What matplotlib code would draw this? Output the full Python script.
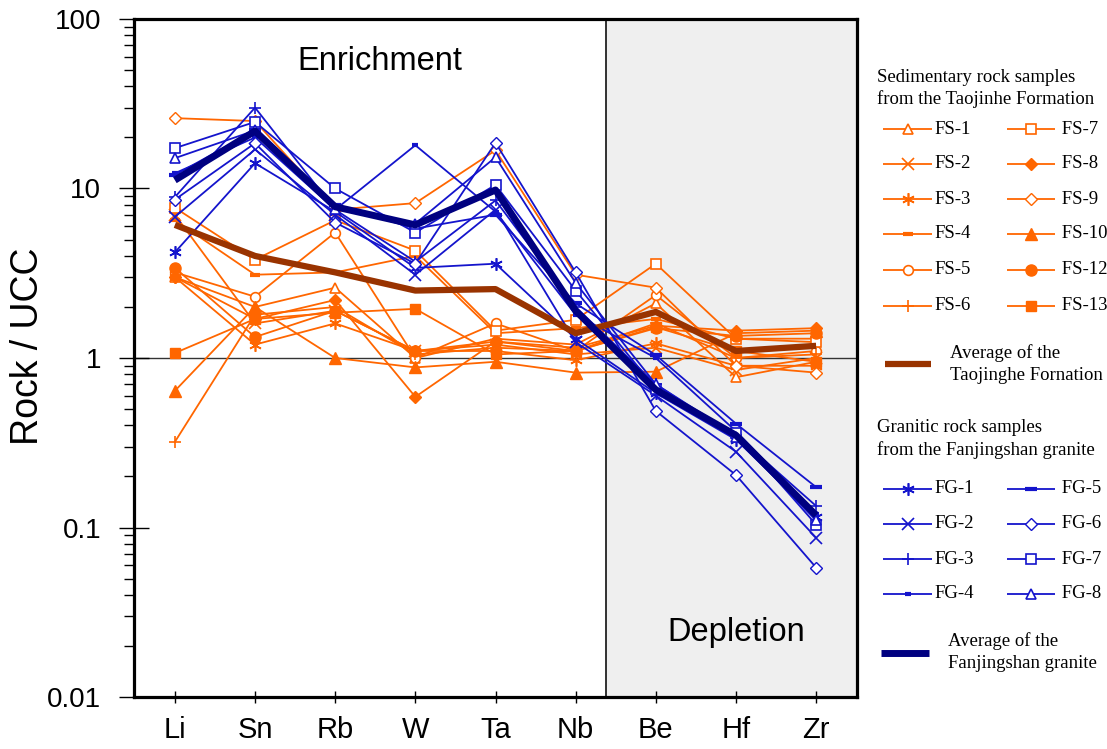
import matplotlib
matplotlib.use('Agg')
import matplotlib.pyplot as plt
from matplotlib.lines import Line2D
from matplotlib.ticker import LogLocator, NullFormatter, FixedLocator

# ---------------- data ----------------
elements = ['Li', 'Sn', 'Rb', 'W', 'Ta', 'Nb', 'Be', 'Hf', 'Zr']
y_ticks = [0.01, 0.1, 1, 10, 100]
y_tick_labels = ['0.01', '0.1', '1', '10', '100']

fs_names = ['FS-1', 'FS-2', 'FS-3', 'FS-4', 'FS-5', 'FS-6',
            'FS-7', 'FS-8', 'FS-9', 'FS-10', 'FS-12', 'FS-13']
fs_1 = [3.0, 2.0, 2.6, 1.0, 1.3, 1.2, 2.1, 0.77, 0.95]
fs_2 = [7.0, 1.6, 1.9, 1.1, 1.2, 1.05, 1.15, 0.85, 1.0]
fs_3 = [3.0, 1.2, 1.6, 1.1, 1.1, 0.97, 1.22, 0.9, 0.9]
fs_4 = [6.5, 3.1, 3.2, 4.0, 1.4, 1.5, 1.7, 1.3, 1.3]
fs_5 = [3.2, 2.3, 5.5, 1.0, 1.6, 1.1, 2.35, 1.0, 1.1]
fs_6 = [0.32, 1.8, 2.0, 1.05, 1.15, 1.1, 1.6, 1.0, 1.05]
fs_7 = [7.7, 3.8, 6.5, 4.3, 1.45, 1.68, 3.6, 1.3, 1.24]
fs_8 = [3.0, 1.7, 2.2, 0.59, 1.25, 1.15, 1.55, 1.45, 1.5]
fs_9 = [26.0, 25.0, 7.5, 8.2, 16.8, 3.1, 2.6, 0.9, 0.82]
fs_10 = [0.64, 2.0, 1.0, 0.88, 0.95, 0.82, 0.83, 1.4, 1.45]
fs_12 = [3.4, 1.33, 1.9, 1.1, 1.25, 1.1, 1.5, 1.35, 1.4]
fs_13 = [1.07, 1.7, 1.85, 1.95, 1.05, 1.1, 1.52, 1.1, 0.95]
fs_avg = [6.1, 4.0, 3.2, 2.5, 2.55, 1.4, 1.87, 1.1, 1.18]

fg_names = ['FG-1', 'FG-2', 'FG-3', 'FG-4', 'FG-5', 'FG-6', 'FG-7', 'FG-8']
fg_1 = [4.2, 14.1, 7.3, 3.4, 3.6, 1.3, 0.62, 0.33, 0.115]
fg_2 = [6.8, 17.0, 7.0, 3.1, 7.5, 1.24, 0.6, 0.28, 0.087]
fg_3 = [8.9, 30.0, 7.5, 3.7, 8.5, 2.0, 0.7, 0.35, 0.134]
fg_4 = [12.3, 20.0, 7.5, 18.0, 7.3, 1.8, 1.0, 0.37, 0.12]
fg_5 = [12.0, 22.0, 8.0, 5.8, 7.0, 2.1, 1.04, 0.41, 0.173]
fg_6 = [8.6, 18.5, 6.3, 3.6, 18.6, 3.2, 0.487, 0.204, 0.058]
fg_7 = [17.3, 24.7, 10.0, 5.5, 10.5, 2.5, 0.66, 0.36, 0.104]
fg_8 = [15.1, 22.0, 7.6, 6.2, 15.3, 2.77, 0.7, 0.34, 0.11]
fg_avg = [11.2, 21.8, 7.8, 6.1, 9.8, 1.9, 0.65, 0.35, 0.118]

fs_series = [fs_1, fs_2, fs_3, fs_4, fs_5, fs_6, fs_7, fs_8, fs_9, fs_10, fs_12, fs_13]
fg_series = [fg_1, fg_2, fg_3, fg_4, fg_5, fg_6, fg_7, fg_8]

# ---------------- styles ----------------
ORANGE = '#FF6600'
BLUE = '#1414CC'
NAVY = '#000080'
BROWN = '#993300'
ASTER = (6, 2, 0)

# (marker, filled, size, edge width)
fs_styles = [('^', False, 7, 1.2), ('x', False, 8, 1.2), (ASTER, False, 9, 1.2),
             ('_', False, 7, 3.0), ('o', False, 7, 1.2), ('+', False, 9, 1.2),
             ('s', False, 7, 1.2), ('D', True, 6, 1.0), ('D', False, 6, 1.0),
             ('^', True, 8, 1.0), ('o', True, 8, 1.0), ('s', True, 7, 1.0)]
fg_styles = [(ASTER, False, 9, 1.2), ('x', False, 8, 1.2), ('+', False, 9, 1.2),
             ('_', False, 4, 3.0), ('_', False, 8, 3.0), ('D', False, 6, 1.0),
             ('s', False, 7, 1.2), ('^', False, 7, 1.2)]

SANS = ['Liberation Sans', 'DejaVu Sans']
NARROW = ['Liberation Sans Narrow', 'Liberation Sans', 'DejaVu Sans']
SERIF = ['Liberation Serif', 'DejaVu Serif']

W, H = 1107, 749
fig = plt.figure(figsize=(W / 100, H / 100), dpi=100)
ax = fig.add_axes([134 / W, 1 - 697 / H, (857 - 134) / W, (697 - 19) / H])

x = list(range(len(elements)))


def mk_kwargs(style, color):
    m, filled, ms, mew = style
    return dict(marker=m, markersize=ms, markeredgewidth=mew, markeredgecolor=color,
                markerfacecolor=(color if filled else 'white'))


# shaded depletion area
ax.axvspan(5.38, 8.6, facecolor='#EFEFEF', edgecolor='none', zorder=0)
ax.axvline(5.38, color='#222222', lw=1.3, zorder=1)
ax.axhline(1, color='#333333', lw=1.0, zorder=1)

for vals, st in zip(fs_series, fs_styles):
    ax.plot(x, vals, color=ORANGE, lw=1.3, zorder=3, **mk_kwargs(st, ORANGE))
for vals, st in zip(fg_series, fg_styles):
    ax.plot(x, vals, color=BLUE, lw=1.3, zorder=4, **mk_kwargs(st, BLUE))
ax.plot(x, fs_avg, color=BROWN, lw=4.5, zorder=5, solid_capstyle='butt')
ax.plot(x, fg_avg, color=NAVY, lw=5.0, zorder=6, solid_capstyle='butt')

ax.set_yscale('log')
ax.set_ylim(0.01, 100)
ax.set_xlim(-0.51, 8.51)
ax.yaxis.set_major_locator(FixedLocator(y_ticks))
ax.set_yticklabels(y_tick_labels, fontsize=20, fontfamily=SANS)
ax.yaxis.set_minor_locator(LogLocator(base=10, subs=range(2, 10)))
ax.yaxis.set_minor_formatter(NullFormatter())
ax.tick_params(axis='y', which='major', direction='inout', length=21, width=1.0, pad=13)
ax.tick_params(axis='y', which='minor', direction='out', length=7, width=1.0)
ax.set_xticks(x)
ax.set_xticklabels(elements, fontsize=21, fontfamily=NARROW)
ax.tick_params(axis='x', which='major', direction='inout', length=9, width=1.0, pad=9)

for s in ax.spines.values():
    s.set_linewidth(2.3)
    s.set_zorder(10)

fig.text(380 / W, 1 - 62 / H, 'Enrichment', fontsize=23.5, fontfamily=SANS, ha='center', va='center')
fig.text(736 / W, 1 - 632 / H, 'Depletion', fontsize=23.5, fontfamily=SANS, ha='center', va='center')
fig.text(28 / W, 1 - 346 / H, 'Rock / UCC', fontsize=27, fontfamily=SANS, rotation=90,
         ha='center', va='center')


# ---------------- legend (drawn in figure pixels) ----------------
def P(px, py):
    return (px / W, 1 - py / H)


LFS = 13.5


def leg_entry(x0, x1, y, color, style, label, lw=1.3):
    a, b = P(x0, y), P(x1, y)
    fig.add_artist(Line2D([a[0], b[0]], [a[1], b[1]], color=color, lw=lw,
                          transform=fig.transFigure, solid_capstyle='butt'))
    if style is not None:
        c = P((x0 + x1) / 2, y)
        fig.add_artist(Line2D([c[0]], [c[1]], linestyle='none', transform=fig.transFigure,
                              **mk_kwargs(style, color)))
    if label:
        t = P(x1 + 2, y)
        fig.text(t[0], t[1], label, fontsize=LFS, fontfamily=SERIF, ha='left', va='center')


fig.text(*P(877, 77), 'Sedimentary rock samples', fontsize=LFS, fontfamily=SERIF, va='center')
fig.text(*P(877, 99), 'from the Taojinhe Formation', fontsize=LFS, fontfamily=SERIF, va='center')
fs_rows = [129, 164, 199, 234, 270, 306]
for i, (name, st) in enumerate(zip(fs_names, fs_styles)):
    col, row = divmod(i, 6)
    if col == 0:
        leg_entry(883, 932, fs_rows[row], ORANGE, st, name)
    else:
        leg_entry(1007, 1055, fs_rows[row], ORANGE, st, ' ' + name)
leg_entry(885, 931, 364, BROWN, None, None, lw=4.5)
fig.text(*P(950, 353), 'Average of the', fontsize=LFS, fontfamily=SERIF, va='center')
fig.text(*P(950, 375), 'Taojinghe Fornation', fontsize=LFS, fontfamily=SERIF, va='center')

fig.text(*P(877, 428), 'Granitic rock samples', fontsize=LFS, fontfamily=SERIF, va='center')
fig.text(*P(877, 450), 'from the Fanjingshan granite', fontsize=LFS, fontfamily=SERIF, va='center')
fg_rows = [489, 524, 559, 594]
for i, (name, st) in enumerate(zip(fg_names, fg_styles)):
    col, row = divmod(i, 4)
    if col == 0:
        leg_entry(883, 932, fg_rows[row], BLUE, st, name)
    else:
        leg_entry(1007, 1055, fg_rows[row], BLUE, st, ' ' + name)
leg_entry(881, 929, 653, NAVY, None, None, lw=5.0)
fig.text(*P(948, 641), 'Average of the', fontsize=LFS, fontfamily=SERIF, va='center')
fig.text(*P(948, 664), 'Fanjingshan granite', fontsize=LFS, fontfamily=SERIF, va='center')

fig.savefig('out.png', dpi=100)
